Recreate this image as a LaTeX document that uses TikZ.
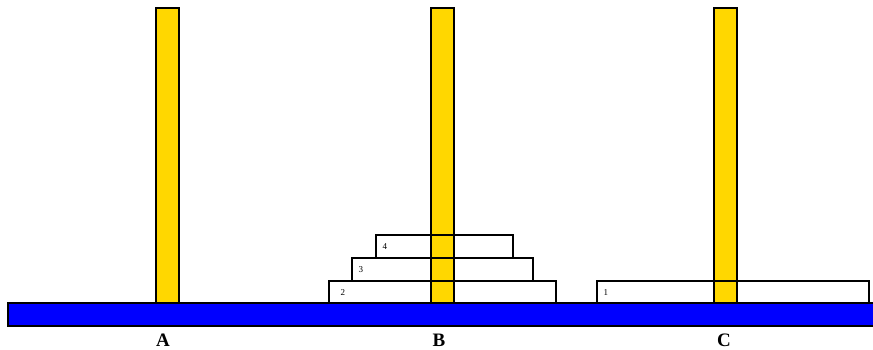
\documentclass[tikz,border=0pt]{standalone}
\usepackage{fontspec}
\setmainfont{Liberation Serif}
\usetikzlibrary{positioning}
\definecolor{pegyellow}{HTML}{FFD700}

\begin{document}
\begin{tikzpicture}[x=1pt,y=-1pt,line width=1.1pt]
  \useasboundingbox (0,0) rectangle (873,350);
  % base board
  \draw[fill=blue] (8,303) rectangle (874,326);
  % pegs and their letters
  \foreach \x/\lx/\id in {167.5/163/A,442.5/439/B,725.5/724/C}{
    \draw[fill=pegyellow] (\x-11.5,8) rectangle (\x+11.5,303);
    \node[font=\bfseries\fontsize{19}{20}\selectfont,anchor=base,inner sep=0pt] (peg\id) at (\lx,346) {\id};
  }
  % disks (outlines only, peg shows through)
  \foreach \l/\t/\r/\b/\n/\o in {597/281/869/303/1/6,329/281/556/303/2/11,352/258/533/281/3/6,376/235/513/258/4/6}{
    \draw (\l,\t) rectangle (\r,\b);
    \node[font=\fontsize{9}{10}\selectfont,anchor=base west,inner sep=0pt] (disk\n) at ({\l+\o},{(\t+\b)/2+3}) {\n};
  }
\end{tikzpicture}
\end{document}
